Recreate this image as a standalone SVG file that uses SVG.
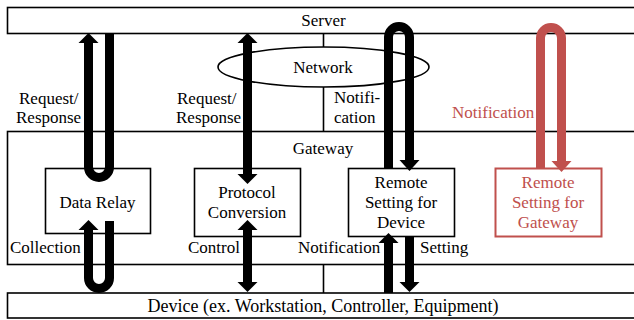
<svg xmlns="http://www.w3.org/2000/svg" width="634" height="320" viewBox="0 0 634 320">
<style>
.box{fill:#fff;stroke:#000;stroke-width:1.6}
.line{stroke:#000;stroke-width:1.6;fill:none}
.rbox{fill:#fff;stroke:#C0504D;stroke-width:2}
text{font-family:"Liberation Serif","Times New Roman",serif;font-size:17px;fill:#000}
.c{text-anchor:middle}
.red{fill:#C0504D}
.big{font-size:18px}
.sh{fill:none;stroke:#000;stroke-width:9}
.rsh{fill:none;stroke:#C0504D;stroke-width:9}
.hd{fill:#000}
.rhd{fill:#C0504D}
</style>
<rect width="634" height="320" fill="#fff"/>
<g id="server">
<rect class="box" x="7.5" y="7.5" width="640" height="26"/>
<text class="c" x="323.5" y="26">Server</text>
</g>
<g id="gateway">
<rect class="box" x="7.5" y="131.5" width="640" height="133"/>
<text class="c" x="323" y="154">Gateway</text>
</g>
<g id="device">
<rect class="box" x="7.5" y="293" width="640" height="25"/>
<text class="c big" x="323" y="312">Device (ex. Workstation, Controller, Equipment)</text>
</g>
<g id="dividers">
<line class="line" x1="323.5" y1="33.5" x2="323.5" y2="131.5"/>
<line class="line" x1="323.5" y1="264.5" x2="323.5" y2="293"/>
</g>
<g id="network">
<ellipse cx="323.5" cy="67" rx="105.5" ry="20" fill="#fff" stroke="#000" stroke-width="1.6"/>
<text class="c" x="323" y="73">Network</text>
</g>
<g id="data-relay">
<rect class="box" x="45.5" y="168.5" width="105" height="65"/>
<text class="c" x="97.5" y="208">Data Relay</text>
</g>
<g id="protocol-conversion">
<rect class="box" x="194.5" y="168.5" width="106" height="68"/>
<text class="c" x="247" y="198">Protocol</text>
<text class="c" x="247" y="218">Conversion</text>
</g>
<g id="remote-device">
<rect class="box" x="348.5" y="168.5" width="106" height="68"/>
<text class="c" x="401" y="188">Remote</text>
<text class="c" x="401" y="208">Setting for</text>
<text class="c" x="401" y="228">Device</text>
</g>
<g id="remote-gateway">
<rect class="rbox" x="495.5" y="168.5" width="106" height="68"/>
<text class="c red" x="548" y="188">Remote</text>
<text class="c red" x="548" y="208">Setting for</text>
<text class="c red" x="548" y="228">Gateway</text>
</g>
<g id="connectors">
<path class="sh" d="M88.5,42 V167 A10.5,10.5 0 0 0 109.5,167 V33"/>
<polygon class="hd" points="78.5,43 98.5,43 88.5,33"/>
<path class="sh" d="M88.5,228 V278 A10.5,10.5 0 0 0 109.5,278 V221"/>
<polygon class="hd" points="78.5,230 98.5,230 88.5,220"/>
<path class="sh" d="M247.5,42 V175"/>
<polygon class="hd" points="237.5,43 257.5,43 247.5,33"/>
<polygon class="hd" points="237.5,174 257.5,174 247.5,184"/>
<path class="sh" d="M247.5,229 V283"/>
<polygon class="hd" points="237.5,230 257.5,230 247.5,220"/>
<polygon class="hd" points="237.5,282 257.5,282 247.5,292"/>
<path class="sh" d="M388.5,168 V37 A10.5,10.5 0 0 1 409.5,37 V161"/>
<polygon class="hd" points="399.5,160 419.5,160 409.5,171"/>
<path class="sh" d="M388.5,242 V293"/>
<polygon class="hd" points="378.5,243 398.5,243 388.5,233"/>
<path class="sh" d="M409.5,237 V283"/>
<polygon class="hd" points="399.5,282 419.5,282 409.5,292"/>
<path class="rsh" d="M540.5,168 V38 A10.5,10.5 0 0 1 561.5,38 V162"/>
<polygon class="rhd" points="551.5,161 571.5,161 561.5,172"/>
</g>
<g id="labels">
<text x="19" y="104">Request/</text>
<text x="16" y="123">Response</text>
<text x="177" y="104">Request/</text>
<text x="176" y="123">Response</text>
<text x="334" y="103">Notifi-</text>
<text x="334" y="123">cation</text>
<text class="red" x="452" y="118">Notification</text>
<text x="10" y="253">Collection</text>
<text x="188" y="253">Control</text>
<text x="298" y="253">Notification</text>
<text x="420" y="253">Setting</text>
</g>
</svg>
